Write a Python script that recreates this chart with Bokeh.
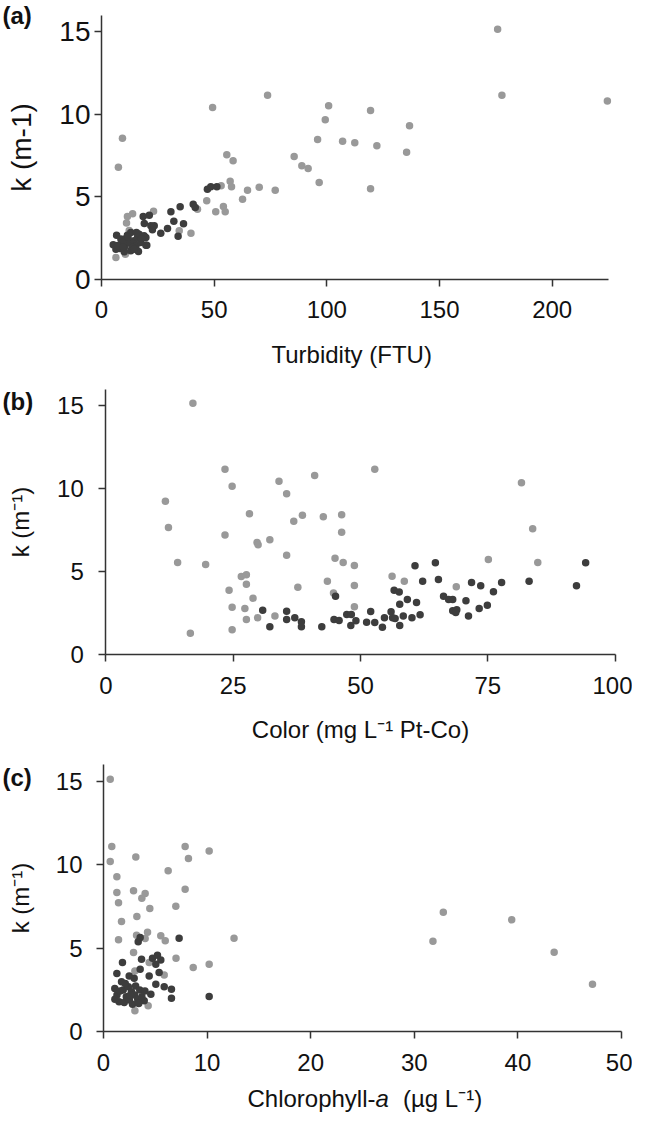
from bokeh.plotting import figure
from bokeh.layouts import column
from bokeh.models import FixedTicker, Range1d, Label, LinearAxis
from bokeh.embed import file_html
from bokeh.resources import INLINE

# ---------------- data ----------------
# Panel (a): turbidity (FTU) vs k
a_light_x = [7.5, 9.3, 49.3, 73.7, 55.6, 58.4, 57.1, 57.7, 53.1, 64.8, 70.0, 77.1, 85.5, 88.9, 91.7,
             95.9, 96.6, 46.7, 50.7, 54.1, 54.9, 62.6, 39.7, 42.6, 34.5, 23.1, 11.5, 13.8, 11.1, 12.3,
             6.4, 10.6, 99.3, 100.8, 107.0, 112.4, 119.4, 119.4, 122.2, 135.4, 136.7, 175.8, 177.7, 224.5]
a_light_k = [6.79, 8.55, 10.41, 11.16, 7.54, 7.18, 5.94, 5.60, 5.66, 5.40, 5.58, 5.40, 7.44, 6.88, 6.71,
             8.47, 5.86, 4.75, 4.09, 4.41, 4.09, 4.85, 2.79, 4.24, 2.93, 4.12, 3.80, 3.97, 3.40, 2.95,
             1.32, 1.52, 9.67, 10.51, 8.37, 8.27, 10.23, 5.48, 8.09, 7.70, 9.30, 15.16, 11.16, 10.80]
a_dark_x = [47.0, 48.5, 51.2, 40.7, 41.6, 34.9, 30.8, 32.1, 36.4, 34.0, 29.3, 26.3, 21.2, 18.5, 19.0,
            21.9, 22.6, 23.4, 19.7, 20.1, 5.2, 6.7, 8.6, 8.1, 10.5, 10.8, 12.3, 13.0, 14.5, 15.3,
            16.0, 16.7, 16.4, 18.9, 19.7, 13.8, 10.1, 11.5, 9.3, 6.4, 13.0, 17.4, 14.5, 15.5,
            7.2, 11.8, 9.5, 17.8]
a_dark_k = [5.46, 5.60, 5.60, 4.55, 4.35, 4.39, 4.09, 3.52, 3.36, 2.61, 3.07, 2.79, 3.88, 3.80, 3.38,
            3.24, 3.00, 3.24, 2.53, 2.06, 2.09, 2.67, 2.43, 1.86, 2.02, 2.47, 2.23, 1.72, 2.33, 2.02,
            2.53, 2.73, 1.68, 2.63, 2.06, 1.92, 1.66, 2.67, 2.23, 1.82, 2.83, 2.23, 1.82, 2.83,
            2.05, 2.55, 1.95, 2.45]

# Panel (b): colour (mg L-1 Pt-Co) vs k
b_light_x = [17.1, 23.4, 24.8, 11.7, 12.3, 14.1, 19.6, 23.4, 28.2, 29.7, 29.9, 32.2, 34.0, 35.5, 41.0,
             36.9, 38.6, 35.5, 26.6, 27.6, 27.6, 24.2, 28.9, 37.7, 24.8, 27.3, 27.6, 29.8, 33.2, 24.8,
             16.6, 52.8, 42.7, 46.3, 46.3, 81.6, 83.8, 84.8, 45.0, 46.6, 48.8, 43.5, 48.8, 44.7, 48.8,
             56.2, 58.6, 68.8, 75.1]
b_light_k = [15.16, 11.18, 10.16, 9.25, 7.67, 5.56, 5.44, 7.21, 8.49, 6.77, 6.63, 6.93, 10.46, 9.70, 10.80,
             8.05, 8.41, 6.00, 4.72, 4.82, 4.25, 3.89, 3.41, 4.07, 2.87, 2.79, 2.13, 2.23, 2.33, 1.51,
             1.30, 11.18, 8.31, 8.43, 7.39, 10.36, 7.59, 5.56, 5.82, 5.56, 5.38, 4.43, 4.17, 3.73, 2.89,
             4.73, 4.43, 4.10, 5.74]
b_dark_x = [30.8, 32.2, 35.5, 35.5, 37.1, 38.4, 38.4, 42.4, 45.1, 44.8, 45.8, 47.3, 48.2, 48.1, 49.1,
            51.2, 52.0, 52.8, 54.3, 54.7, 56.0, 56.3, 56.8, 57.7, 58.4, 60.1, 61.7, 60.7, 64.7, 62.2,
            65.3, 56.6, 57.6, 59.2, 57.7, 61.0, 66.3, 67.3, 68.1, 68.1, 68.9, 68.7, 70.7, 71.2, 71.8,
            73.6, 73.3, 74.9, 76.1, 77.7, 83.1, 92.4, 94.2]
b_dark_k = [2.69, 1.69, 2.63, 2.13, 2.23, 1.99, 1.69, 1.69, 3.53, 2.13, 2.07, 2.43, 2.43, 1.77, 2.05,
            1.96, 2.61, 1.95, 1.66, 2.23, 2.59, 2.23, 2.19, 1.77, 2.33, 2.23, 2.41, 5.36, 5.54, 4.43,
            4.54, 3.89, 3.79, 3.33, 3.05, 3.15, 3.53, 3.33, 3.33, 2.65, 2.71, 2.55, 3.25, 2.33, 4.36,
            4.16, 2.79, 2.99, 3.80, 4.36, 4.43, 4.16, 5.54]

# Panel (c): chlorophyll-a (ug L-1) vs k
c_light_x = [0.65, 0.80, 0.65, 3.12, 1.29, 1.29, 1.45, 1.74, 1.45, 2.90, 3.70, 4.02, 3.22, 4.47, 6.24,
             7.88, 8.20, 10.2, 7.88, 6.98, 4.25, 3.19, 4.02, 5.53, 5.96, 7.0, 8.66, 10.2, 12.6, 2.90,
             4.41, 3.03, 4.31, 5.86, 3.03, 32.8, 31.8, 39.4, 43.5, 47.2]
c_light_k = [15.14, 11.10, 10.20, 10.48, 9.29, 8.35, 7.73, 6.61, 5.51, 8.45, 8.00, 8.29, 6.91, 7.39, 9.65,
             11.10, 10.38, 10.84, 8.54, 7.53, 5.97, 5.79, 5.59, 5.75, 5.45, 4.41, 3.85, 4.05, 5.61, 4.75,
             4.15, 1.26, 1.56, 3.41, 3.65, 7.17, 5.43, 6.71, 4.77, 2.85]
c_dark_x = [7.3, 10.2, 3.35, 3.54, 1.83, 1.29, 3.67, 3.54, 4.73, 5.21, 5.53, 5.05, 5.37, 4.41, 5.05,
            5.86, 6.56, 6.56, 2.48, 2.96, 1.74, 1.09, 4.57, 3.93, 1.3, 1.5, 1.9, 2.0, 2.2, 2.4,
            2.5, 2.7, 2.8, 3.0, 3.1, 3.3, 3.5, 3.7, 2.1, 1.6, 2.6, 3.4, 4.0, 1.1]
c_dark_k = [5.61, 2.11, 5.39, 5.65, 4.15, 3.49, 4.35, 3.75, 4.41, 4.59, 4.31, 4.05, 3.55, 3.35, 2.85,
            2.70, 2.55, 2.01, 3.35, 3.21, 3.00, 2.59, 2.25, 1.86, 2.2, 1.8, 2.5, 1.75, 2.1, 2.7,
            1.9, 2.4, 1.65, 2.2, 2.75, 1.95, 2.5, 2.1, 2.9, 2.45, 2.2, 1.7, 2.45, 1.95]

a_xticks = [0, 50, 100, 150, 200]
b_xticks = [0, 25, 50, 75, 100]
c_xticks = [0, 10, 20, 30, 40, 50]
k_ticks = [0, 5, 10, 15]
a_xmax, b_xmax, c_xmax, k_max = 225, 100, 50, 16

# ---------------- style ----------------
FONT = "Liberation Sans"
LIGHT = "#999999"
DARK = "#3d3d3d"
AXC = "#333333"
TXT = "#111111"
W = 632
PAGE = 8


def style_axis(ax, ticks, fs_ticks, fs_label, tick_standoff, label_standoff):
    ax.ticker = FixedTicker(ticks=ticks)
    ax.minor_tick_line_color = None
    ax.major_tick_in = 0
    ax.major_tick_out = 7
    ax.axis_line_color = AXC
    ax.axis_line_width = 1.5
    ax.major_tick_line_color = AXC
    ax.major_tick_line_width = 1.5
    ax.major_label_text_font = FONT
    ax.major_label_text_font_size = fs_ticks
    ax.major_label_text_color = TXT
    ax.major_label_standoff = tick_standoff
    ax.axis_label_text_font = FONT
    ax.axis_label_text_font_size = fs_label
    ax.axis_label_text_font_style = "normal"
    ax.axis_label_text_color = TXT
    ax.axis_label_standoff = label_standoff


def make_panel(page_top, height, xmax, xticks, px_x0, px_x1, px_y0, px_ytop,
               xlabel, ylabel, lx, lk, dx, dk, tag, tag_page_y, yfs, ytick_so, ylab_so):
    # pixel geometry -> ranges so that the frame covers the whole canvas
    fx0, fx1 = px_x0 - PAGE, px_x1 - PAGE
    fy0, fyt = px_y0 - page_top, px_ytop - page_top
    sx = (fx1 - fx0) / xmax
    sy = (fy0 - fyt) / k_max
    xr = Range1d(-fx0 / sx, xmax + (W - fx1) / sx)
    yr = Range1d(-(height - fy0) / sy, k_max + fyt / sy)
    p = figure(width=W, height=height, x_range=xr, y_range=yr,
               x_axis_type=None, y_axis_type=None,
               output_backend="svg", toolbar_location=None,
               min_border_left=0, min_border_right=0, min_border_top=0, min_border_bottom=0)
    p.outline_line_color = None
    p.xgrid.visible = False
    p.ygrid.visible = False
    p.scatter(lx, lk, size=7.5, color=LIGHT, line_color=None)
    p.scatter(dx, dk, size=7.5, color=DARK, line_color=None)

    xa = LinearAxis(fixed_location=0, bounds=(0, xmax))
    style_axis(xa, xticks, "24px", "24px", 15, 19)
    if xlabel is not None:
        xa.axis_label = xlabel
    p.add_layout(xa, "below")

    ya = LinearAxis(fixed_location=0, bounds=(0, k_max))
    style_axis(ya, k_ticks, yfs, yfs, ytick_so, ylab_so)
    ya.axis_label = ylabel
    p.add_layout(ya, "left")

    p.add_layout(Label(x=2, y=page_top + height - tag_page_y, x_units="screen", y_units="screen",
                       text=tag, text_font=FONT, text_font_style="bold", text_font_size="24px",
                       text_baseline="middle", text_align="left", text_color=TXT))
    return p


p1 = make_panel(8, 382, a_xmax, a_xticks, 109, 616, 286.7, 22.8,
                "Turbidity  (FTU)", "k (m-1)", a_light_x, a_light_k, a_dark_x, a_dark_k,
                "(a)", 23, "28px", 4, 19)
p2 = make_panel(390, 375, b_xmax, b_xticks, 113.3, 622.7, 662.3, 396.7,
                "Color (mg L\u207b\u00b9 Pt-Co)", "k (m\u207b\u00b9)", b_light_x, b_light_k, b_dark_x, b_dark_k,
                "(b)", 409, "24px", 15, 20)
p3 = make_panel(765, 355, c_xmax, c_xticks, 111, 629, 1039.3, 772.3,
                None, "k (m\u207b\u00b9)", c_light_x, c_light_k, c_dark_x, c_dark_k,
                "(c)", 785, "24px", 14, 19)

# x-axis title of panel (c), with italic "a"
anchor = 383 - PAGE
for txt, xx, style, align in (("Chlorophyll-", anchor, "normal", "right"),
                              ("a", anchor, "italic", "left"),
                              ("(\u00b5g L\u207b\u00b9)", anchor + 27.5, "normal", "left")):
    p3.add_layout(Label(x=xx, y=14, x_units="screen", y_units="screen", text=txt,
                        text_font=FONT, text_font_style=style, text_font_size="24px",
                        text_baseline="alphabetic", text_align=align, text_color=TXT))

layout = column(p1, p2, p3)
open("out.html", "w").write(file_html(layout, INLINE))
